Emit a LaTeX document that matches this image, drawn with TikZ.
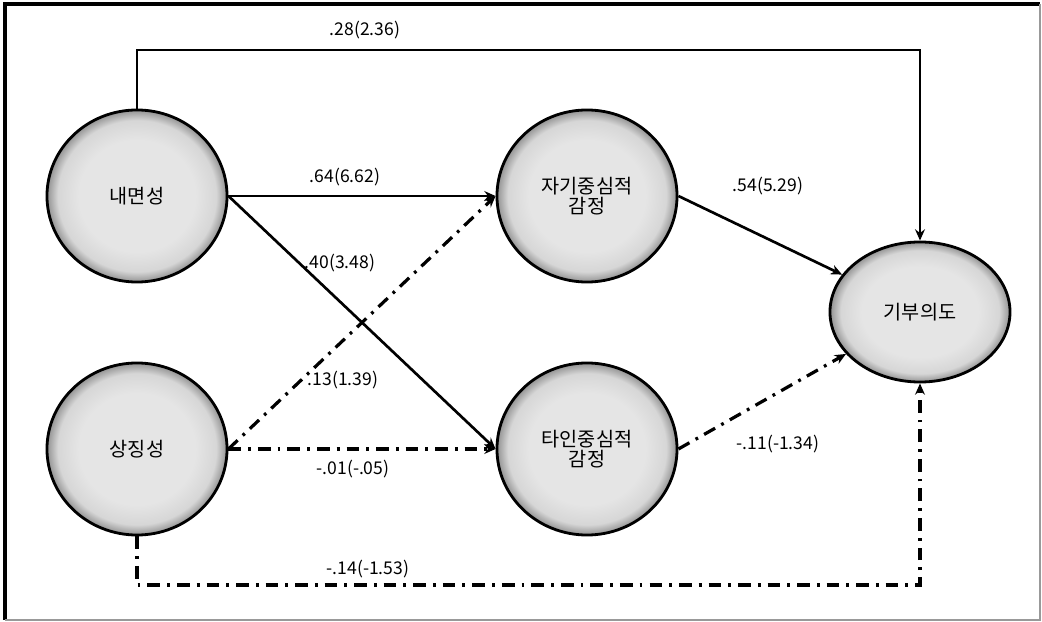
\documentclass[tikz,border=0pt]{standalone}
\usepackage{fontspec}
\setmainfont{Noto Sans CJK KR}
\usepackage{tikz}
\usetikzlibrary{calc,positioning,arrows.meta,shapes.geometric}
\pgfdeclareradialshading{ballgray}{\pgfpoint{0bp}{0bp}}{%
	color(0bp)=(gray!20); color(16bp)=(gray!20); color(22bp)=(gray!32);
	color(25bp)=(gray!85); color(50bp)=(gray!85)}
\tikzset{
	>={Stealth[length=8pt,width=7pt]},
	every node/.style={font=\fontsize{12.5}{15}\selectfont},
	latent/.style={ellipse, draw, line width=2pt, shading=ballgray,
		inner sep=0pt, minimum width=4.5cm, minimum height=4.3cm, align=center,
		font=\fontsize{14}{16}\selectfont},
	sig/.style={->, line width=1.9pt},
	nonsig/.style={->, line width=2.3pt, dash pattern=on 9pt off 5pt on 2pt off 5pt},
	coef/.style={inner sep=1pt},
}
\definecolor{gray}{rgb}{0.5,0.5,0.5}

\begin{document}
\begin{tikzpicture}[x=0.025cm, y=-0.025cm]
		\useasboundingbox (0,0) rectangle (1042,622);
		\draw[line width=2.4pt] (5,620) -- (5,4) -- (1040,4);
		\draw[gray!80, line width=0.8pt] (5,620) -- (1040,620) -- (1040,4);

		\node[latent] (ne) at (137,196) {내면성};
		\node[latent] (sj) at (137,449) {상징성};
		\node[latent] (ja) at (587,196) {자기중심적\\[-2pt]감정};
		\node[latent] (ta) at (587,449) {타인중심적\\[-2pt]감정};
		\node[latent, minimum height=3.5cm] (gi) at (920,312) {기부의도};

		\coordinate (top) at (0,50);
		\coordinate (bot) at (0,585);

		\draw[sig] (ne.north) -- (ne.north |- top) -- (gi.north |- top) -- (gi.north);
		\draw[sig] (ne.east) -- (ja.west);
		\draw[sig] (ne.east) -- (ta.west);
		\draw[sig] (ja.east) -- (gi);
		\draw[nonsig] (sj.east) -- (ja.west);
		\draw[nonsig] (sj.east) -- (ta.west);
		\draw[nonsig] (ta.east) -- (gi);
		\draw[nonsig] (sj.south) -- (sj.south |- bot) -- (gi.south |- bot) -- (gi.south);

		\node[coef] (c1) at (365,30) {.28(2.36)};
		\node[coef] (c2) at (345,177) {.64(6.62)};
		\node[coef] (c3) at (340,263) {.40(3.48)};
		\node[coef] (c4) at (343,380) {.13(1.39)};
		\node[coef] (c5) at (768,186) {.54(5.29)};
		\node[coef] (c6) at (778,444) {-.11(-1.34)};
		\node[coef] (c7) at (353,469) {-.01(-.05)};
		\node[coef] (c8) at (368,569) {-.14(-1.53)};
	\end{tikzpicture}
\end{document}
